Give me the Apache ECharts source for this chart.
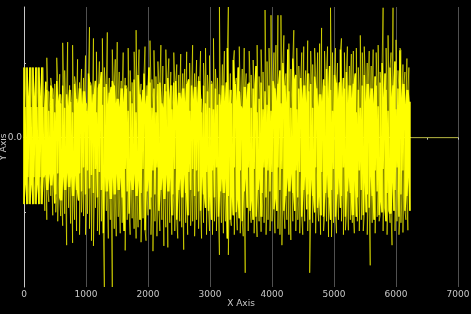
<!DOCTYPE html>
<html><head><meta charset="utf-8">
<script src="https://cdn.jsdelivr.net/npm/echarts@6/dist/echarts.min.js"></script>
<style>html,body{margin:0;padding:0;background:#000;}#c{width:471px;height:314px;}</style>
</head><body><div id="c"></div>
<script>
// Per-column (16 x-units wide) upper and lower envelope of the signal
const xStep = 16;
const hiVals = [
.94,.94,.41,.94,.94,.41,.94,.94,.41,.94,
.94,.41,.94,.94,.41,.94,.94,.41,.94,.94,
.41,.40,.75,1.07,.64,.62,.36,.80,.70,.66,
.52,.72,.34,1.07,.76,.44,.85,.58,.46,1.27,
.70,.90,.40,.58,1.28,.36,.70,.64,.48,1.24,
.34,.82,.72,.52,1.05,.42,.74,.66,.92,.38,
.80,.62,1.10,.46,.36,.86,1.48,.74,.70,.40,
1.33,.58,.76,1.15,.34,.66,1.02,.72,.88,1.33,
.44,.94,.68,.72,1.41,.38,.80,.60,.68,1.18,
.76,.70,1.05,.42,1.28,.52,.88,.35,.76,.66,
1.14,.40,.80,.70,.66,1.20,.36,.90,.62,.74,
.46,1.15,.78,1.44,.34,.84,1.18,.58,.72,.42,
.64,.86,1.22,.38,.70,.56,.94,1.30,.74,.78,
.40,1.17,.66,.82,.34,1.02,.72,.74,1.24,.46,
.96,.36,.72,1.18,.62,.80,1.06,.42,.88,.70,
.38,1.14,.74,.76,.98,.34,.84,.60,1.12,.48,
.86,.66,.92,.40,1.15,.72,.78,1.00,.36,.70,
1.24,.44,.86,.68,1.04,.38,.82,.76,1.16,.52,
.34,1.00,.70,1.20,.46,.84,.62,1.10,.40,.76,
.72,1.33,.38,.92,.66,.80,.44,1.75,.58,.36,
.98,.70,1.16,.40,.74,1.20,1.75,.34,.86,.64,
.46,1.04,1.17,.72,.80,.38,.94,1.22,.62,.42,
.92,.36,1.20,.68,.86,.44,.72,1.16,.74,.84,
.40,1.04,.66,.70,.96,1.24,.34,.82,.52,1.18,
.74,.88,.38,1.71,.62,1.02,.44,1.20,.70,1.64,
.36,.76,1.14,.66,1.24,.42,1.64,.72,.90,1.64,
.46,1.00,1.37,.70,.86,.34,1.18,1.26,.62,.92,
.40,1.06,1.44,.74,.84,1.20,.38,.96,.66,.80,
1.14,.44,1.22,.70,.90,.36,1.30,.86,.62,1.16,
.72,.98,.40,1.20,.82,.66,1.14,.34,1.26,.58,
1.47,.42,.78,1.16,.70,.92,1.22,.38,.96,1.74,
.64,1.14,.36,.84,1.20,.74,1.00,.44,.74,1.18,
1.33,.40,.80,1.14,.66,.88,1.22,.36,.96,.70,
1.12,.46,1.16,.72,.86,1.20,.34,.94,.64,1.37,
.40,1.14,.70,1.22,.84,.38,1.00,.72,1.16,.44,
.96,.66,1.18,.36,.82,1.14,.70,1.24,.42,.88,
.74,1.00,1.74,.40,.86,1.20,.64,1.37,.36,.94,
1.14,.46,1.74,.70,1.02,1.31,.38,.90,.66,1.20,
1.17,.42,.98,.72,.88,.36,1.06,.64,.94,.48
];
const loVals = [
-.89,-.89,-.53,-.89,-.89,-.53,-.89,-.89,-.53,-.89,
-.89,-.53,-.89,-.89,-.53,-.89,-.89,-.53,-.89,-.89,
-.53,-.98,-.46,-1.10,-.70,-.86,-.42,-.78,-.64,-1.04,
-.40,-.88,-1.00,-.76,-1.12,-.48,-.80,-1.05,-.84,-1.18,
-.44,-1.02,-.70,-1.44,-.40,-.94,-.66,-1.15,-.46,-1.41,
-.78,-1.10,-.42,-1.25,-.70,-.84,-1.30,-.48,-1.00,-.72,
-1.05,-.40,-1.30,-.76,-1.02,-.44,-1.22,-.68,-1.38,-.50,
-1.45,-.74,-.94,-.42,-1.25,-.80,-1.30,-.46,-1.12,-.70,
-1.28,-2.00,-.40,-.98,-.72,-1.35,-.48,-1.10,-.82,-2.00,
-.44,-1.22,-.76,-1.32,-.40,-1.06,-.70,-1.28,-.46,-1.14,
-.80,-1.25,-1.51,-.42,-1.10,-.72,-1.02,-1.30,-.48,-1.08,
-.70,-1.22,-.40,-1.35,-.78,-1.20,-.46,-1.10,-1.40,-.74,
-1.08,-.42,-1.24,-1.38,-.72,-1.04,-.48,-.96,-1.30,-.80,
-1.52,-.44,-1.12,-.76,-1.32,-.40,-.98,-1.25,-.70,-1.10,
-.46,-1.45,-.82,-1.20,-.40,-1.47,-.72,-1.14,-.44,-1.30,
-1.04,-.76,-1.25,-.42,-1.10,-1.35,-.70,-1.12,-.48,-1.20,
-.80,-1.50,-.40,-1.14,-.74,-1.30,-1.04,-.46,-1.18,-.70,
-1.12,-.42,-1.32,-.78,-1.10,-.44,-1.22,-.72,-.98,-1.35,
-.40,-1.14,-.76,-.94,-1.30,-.46,-.98,-1.25,-.70,-1.10,
-1.30,-.44,-1.12,-.80,-1.25,-.40,-1.06,-1.57,-.72,-1.14,
-.48,-1.28,-.74,-1.12,-.42,-1.35,-1.57,-.78,-1.10,-1.18,
-.70,-1.04,-1.30,-.40,-1.00,-1.24,-.76,-1.08,-1.28,-.44,
-1.12,-1.32,-.72,-1.81,-.46,-.94,-1.25,-.40,-.98,-1.14,
-.78,-1.10,-1.28,-.42,-1.06,-1.33,-.70,-1.12,-.46,-1.26,
-1.06,-.74,-1.14,-.40,-1.30,-.80,-1.10,-.44,-1.25,-.72,
-1.12,-.46,-.96,-1.28,-.76,-.98,-1.22,-.40,-1.30,-.70,
-1.44,-.42,-.98,-1.22,-.78,-1.10,-.46,-1.30,-.72,-1.37,
-.40,-1.12,-.74,-.98,-1.25,-.44,-1.10,-.80,-1.28,-.46,
-1.06,-1.30,-.70,-1.12,-.42,-.96,-1.25,-.76,-1.81,-1.10,
-.44,-1.14,-.78,-1.00,-1.28,-.40,-.94,-1.12,-.72,-1.30,
-1.04,-.46,-1.25,-1.06,-.74,-1.12,-.40,-1.33,-.80,-1.10,
-1.33,-.70,-1.14,-.42,-1.06,-1.28,-.76,-1.10,-.44,-.94,
-1.12,-.78,-1.30,-.40,-1.24,-1.06,-.72,-1.24,-.46,-1.10,
-.74,-1.14,-1.04,-1.28,-.42,-1.06,-1.12,-.80,-1.25,-.44,
-1.10,-.70,-1.25,-1.04,-.46,-1.00,-1.30,-.76,-.94,-1.71,
-.40,-1.14,-.78,-1.10,-1.28,-.44,-1.06,-.72,-1.12,-1.04,
-.80,-1.00,-1.25,-.42,-.94,-1.12,-1.30,-.74,-.98,-1.14,
-1.02,-1.44,-.46,-.98,-1.25,-.70,-1.12,-.40,-1.30,-1.06,
-1.14,-.76,-1.27,-.44,-.98,-1.10,-.78,-1.24,-.42,-.98
];
const tailX = [6240, 7000];
const tailY = [0, 0];
const xTicks = [0,1000,2000,3000,4000,5000,6000,7000];

// zig-zag through each column: full envelope (thin spikes) and dense core (overlap of neighbours)
const n = hiVals.length;
const signal = [], core = [];
for (let i = 0; i < n; i++) {
  const x = i * xStep;
  const b = Math.min(n - 1, i + 1);
  const cHi = Math.min(hiVals[i], hiVals[b]);
  const cLo = Math.max(loVals[i], loVals[b]);
  if (i % 2 === 0) { signal.push([x, hiVals[i]], [x, loVals[i]]); core.push([x, cHi], [x, cLo]); }
  else { signal.push([x, loVals[i]], [x, hiVals[i]]); core.push([x, cLo], [x, cHi]); }
}
const tail = tailX.map((x, i) => [x, tailY[i]]);

const chart = echarts.init(document.getElementById('c'), null, {renderer: 'canvas'});
const axisCol = '#c8c8c8';
chart.setOption({
  backgroundColor: '#000000',
  animation: false,
  grid: {left: 24, right: 13, top: 7, bottom: 27, containLabel: false, outerBoundsMode: 'none'},
  xAxis: {
    type: 'value', min: 0, max: 7000, interval: 1000,
    name: 'X Axis', nameLocation: 'middle', nameGap: 12, nameMoveOverlap: false,
    nameTextStyle: {color: axisCol, fontSize: 9, fontFamily: 'DejaVu Sans'},
    axisLine: {show: true, lineStyle: {color: axisCol, width: 1}},
    axisTick: {show: true, inside: false, length: 2, lineStyle: {color: axisCol}},
    minorTick: {show: true, splitNumber: 2, length: 2, lineStyle: {color: axisCol}},
    axisLabel: {color: axisCol, fontSize: 9, margin: 3, fontFamily: 'DejaVu Sans',
      formatter: v => xTicks.indexOf(v) >= 0 ? String(v) : ''},
    splitLine: {show: true, lineStyle: {color: '#505050', width: 1}}
  },
  yAxis: {
    type: 'value', min: -2, max: 1.75, interval: 1,
    name: 'Y Axis', nameLocation: 'middle', nameGap: 16, nameMoveOverlap: false,
    nameTextStyle: {color: axisCol, fontSize: 9, fontFamily: 'DejaVu Sans'},
    axisLine: {show: true, onZero: false, lineStyle: {color: axisCol, width: 1}},
    axisTick: {show: true, inside: true, length: 2, lineStyle: {color: axisCol}},
    axisLabel: {color: axisCol, fontSize: 9, margin: 2, fontFamily: 'DejaVu Sans',
      showMinLabel: false, showMaxLabel: false,
      formatter: v => v === 0 ? '0.0' : ''},
    splitLine: {show: false}
  },
  series: [
    {type: 'line', data: signal, symbol: 'none', showSymbol: false, silent: true,
      lineStyle: {color: '#ffff00', width: 1, opacity: 0.6}, z: 3},
    {type: 'line', data: core, symbol: 'none', showSymbol: false, silent: true,
      lineStyle: {color: '#ffff00', width: 1.5}, z: 4},
    {type: 'line', data: tail, symbol: 'none', showSymbol: false, silent: true,
      lineStyle: {color: '#9a9a20', width: 1}, z: 3}
  ]
});
</script>
</body></html>
